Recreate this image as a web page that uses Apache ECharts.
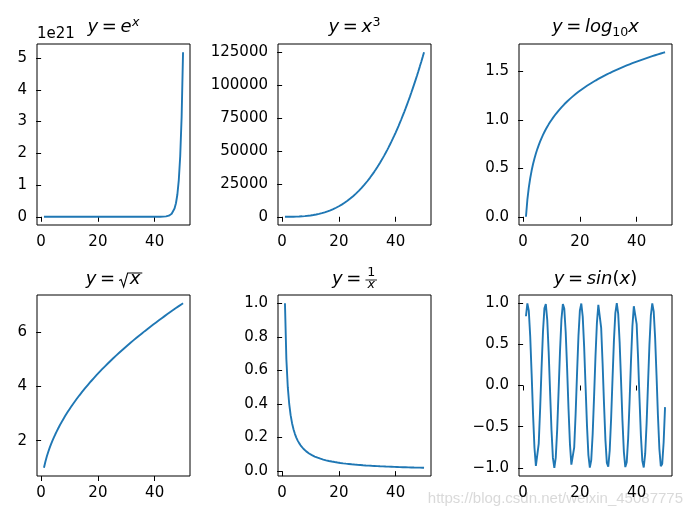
<!DOCTYPE html>
<html>
<head>
<meta charset="utf-8">
<script src="https://cdn.jsdelivr.net/npm/echarts@6/dist/echarts.min.js"></script>
</head>
<body style="margin:0">
<div id="chart" style="width:693px;height:520px"></div>
<script>
// ---------- data ----------
const xValues = [1,1.5,2,2.5,3,3.5,4,4.5,5,5.5,6,6.5,7,7.5,8,8.5,9,9.5,10,10.5,
  11,11.5,12,12.5,13,13.5,14,14.5,15,15.5,16,16.5,17,17.5,18,18.5,19,19.5,20,20.5,
  21,21.5,22,22.5,23,23.5,24,24.5,25,25.5,26,26.5,27,27.5,28,28.5,29,29.5,30,30.5,
  31,31.5,32,32.5,33,33.5,34,34.5,35,35.5,36,36.5,37,37.5,38,38.5,39,39.5,40,40.5,
  41,41.5,42,42.5,43,43.5,44,44.5,45,45.5,46,46.5,47,47.5,48,48.5,49,49.5,50];

const expValues = [2.718,4.482,7.389,12.18,20.09,33.12,54.60,90.02,148.4,244.7,
  403.4,665.1,1096.6,1808.0,2981,4915,8103,13360,22026,36316,
  59874,98716,162755,268337,442413,729416,1.2026e6,1.9827e6,3.269e6,5.390e6,
  8.886e6,1.465e7,2.4155e7,3.983e7,6.566e7,1.0826e8,1.7848e8,2.9427e8,4.8517e8,7.999e8,
  1.3188e9,2.1744e9,3.5849e9,5.9105e9,9.7448e9,1.6067e10,2.6489e10,4.3673e10,7.2005e10,1.1872e11,
  1.9573e11,3.2271e11,5.3205e11,8.7721e11,1.4463e12,2.3845e12,3.9313e12,6.4817e12,1.0686e13,1.7619e13,
  2.9049e13,4.7893e13,7.8963e13,1.3019e14,2.1464e14,3.5388e14,5.8346e14,9.6196e14,1.5860e15,2.6149e15,
  4.3112e15,7.1080e15,1.1719e16,1.9322e16,3.1856e16,5.2522e16,8.6593e16,1.4277e17,2.3539e17,3.8809e17,
  6.3984e17,1.0549e18,1.7393e18,2.8676e18,4.7279e18,7.7950e18,1.2852e19,2.1189e19,3.4934e19,5.7597e19,
  9.4961e19,1.5656e20,2.5813e20,4.2558e20,7.0167e20,1.1569e21,1.9073e21,3.1447e21,5.1847e21];

const cubeValues = [1,3.4,8,15.6,27,42.9,64,91.1,125,166.4,
  216,274.6,343,421.9,512,614.1,729,857.4,1000,1157.6,
  1331,1520.9,1728,1953.1,2197,2460.4,2744,3048.6,3375,3723.9,
  4096,4492.1,4913,5359.4,5832,6331.6,6859,7414.9,8000,8615.1,
  9261,9938.4,10648,11390.6,12167,12977.9,13824,14706.1,15625,16581.4,
  17576,18609.6,19683,20796.9,21952,23149.1,24389,25672.4,27000,28372.6,
  29791,31255.9,32768,34328.1,35937,37595.4,39304,41063.6,42875,44738.9,
  46656,48627.1,50653,52734.4,54872,57066.6,59319,61629.9,64000,66430.1,
  68921,71473.4,74088,76765.6,79507,82312.9,85184,88121.1,91125,94196.4,
  97336,100544.6,103823,107171.9,110592,114084.1,117649,121287.4,125000];

const logValues = [0,0.1761,0.3010,0.3979,0.4771,0.5441,0.6021,0.6532,0.6990,0.7404,
  0.7782,0.8129,0.8451,0.8751,0.9031,0.9294,0.9542,0.9777,1.0000,1.0212,
  1.0414,1.0607,1.0792,1.0969,1.1139,1.1303,1.1461,1.1614,1.1761,1.1903,
  1.2041,1.2175,1.2304,1.2430,1.2553,1.2672,1.2788,1.2900,1.3010,1.3118,
  1.3222,1.3324,1.3424,1.3522,1.3617,1.3711,1.3802,1.3892,1.3979,1.4065,
  1.4150,1.4232,1.4314,1.4393,1.4472,1.4548,1.4624,1.4698,1.4771,1.4843,
  1.4914,1.4983,1.5051,1.5119,1.5185,1.5250,1.5315,1.5378,1.5441,1.5502,
  1.5563,1.5623,1.5682,1.5740,1.5798,1.5855,1.5911,1.5966,1.6021,1.6075,
  1.6128,1.6180,1.6232,1.6284,1.6335,1.6385,1.6435,1.6484,1.6532,1.6580,
  1.6628,1.6675,1.6721,1.6767,1.6812,1.6857,1.6902,1.6946,1.6990];

const sqrtValues = [1,1.2247,1.4142,1.5811,1.7321,1.8708,2,2.1213,2.2361,2.3452,
  2.4495,2.5495,2.6458,2.7386,2.8284,2.9155,3,3.0822,3.1623,3.2404,
  3.3166,3.3912,3.4641,3.5355,3.6056,3.6742,3.7417,3.8079,3.8730,3.9370,
  4,4.0620,4.1231,4.1833,4.2426,4.3012,4.3589,4.4159,4.4721,4.5277,
  4.5826,4.6368,4.6904,4.7434,4.7958,4.8477,4.8990,4.9497,5,5.0498,
  5.0990,5.1478,5.1962,5.2440,5.2915,5.3385,5.3852,5.4314,5.4772,5.5227,
  5.5678,5.6125,5.6569,5.7009,5.7446,5.7879,5.8310,5.8737,5.9161,5.9582,
  6,6.0415,6.0828,6.1237,6.1644,6.2048,6.2450,6.2849,6.3246,6.3640,
  6.4031,6.4420,6.4807,6.5192,6.5574,6.5955,6.6332,6.6708,6.7082,6.7454,
  6.7823,6.8191,6.8557,6.8920,6.9282,6.9642,7,7.0356,7.0711];

const recipValues = [1,0.6667,0.5,0.4,0.3333,0.2857,0.25,0.2222,0.2,0.1818,
  0.1667,0.1538,0.1429,0.1333,0.125,0.1176,0.1111,0.1053,0.1,0.0952,
  0.0909,0.0870,0.0833,0.08,0.0769,0.0741,0.0714,0.0690,0.0667,0.0645,
  0.0625,0.0606,0.0588,0.0571,0.0556,0.0541,0.0526,0.0513,0.05,0.0488,
  0.0476,0.0465,0.0455,0.0444,0.0435,0.0426,0.0417,0.0408,0.04,0.0392,
  0.0385,0.0377,0.0370,0.0364,0.0357,0.0351,0.0345,0.0339,0.0333,0.0328,
  0.0323,0.0317,0.0313,0.0308,0.0303,0.0299,0.0294,0.0290,0.0286,0.0282,
  0.0278,0.0274,0.0270,0.0267,0.0263,0.0260,0.0256,0.0253,0.025,0.0247,
  0.0244,0.0241,0.0238,0.0235,0.0233,0.0230,0.0227,0.0225,0.0222,0.0220,
  0.0217,0.0215,0.0213,0.0211,0.0208,0.0206,0.0204,0.0202,0.02];

const sinValues = [0.8415,0.9975,0.9093,0.5985,0.1411,-0.3508,-0.7568,-0.9775,-0.9589,-0.7055,
  -0.2794,0.2151,0.6570,0.9380,0.9894,0.7985,0.4121,-0.0752,-0.5440,-0.8797,
  -1.0000,-0.8755,-0.5366,-0.0663,0.4202,0.8038,0.9906,0.9349,0.6503,0.2065,
  -0.2879,-0.7119,-0.9614,-0.9756,-0.7510,-0.3425,0.1499,0.6055,0.9129,0.9968,
  0.8367,0.4716,-0.0089,-0.4872,-0.8462,-0.9981,-0.9056,-0.5914,-0.1324,0.3591,
  0.7625,0.9794,0.9564,0.6992,0.2709,-0.2238,-0.6636,-0.9411,-0.9880,-0.7932,
  -0.4040,0.0840,0.5514,0.8839,0.9999,0.8711,0.5291,0.0575,-0.4282,-0.8090,
  -0.9918,-0.9320,-0.6435,-0.1978,0.2964,0.7180,0.9638,0.9736,0.7451,0.3341,
  -0.1586,-0.6126,-0.9165,-0.9961,-0.8317,-0.4638,0.0177,0.4949,0.8509,0.9986,
  0.9018,0.5842,0.1236,-0.3673,-0.7683,-0.9811,-0.9538,-0.6929,-0.2624];

// tick labels
const xTicks = [0, 20, 40];
const expTicks = [0, 1e21, 2e21, 3e21, 4e21, 5e21];
const cubeTicks = [0, 25000, 50000, 75000, 100000, 125000];
const logTicks = [0, 0.5, 1.0, 1.5];
const sqrtTicks = [2, 4, 6];
const recipTicks = [0, 0.2, 0.4, 0.6, 0.8, 1.0];
const sinTicks = [-1.0, -0.5, 0, 0.5, 1.0];

// ---------- layout ----------
const FONT = 'DejaVu Sans';
const LINE = '#1f77b4';
const cols = [37, 278, 519];
const rows = [44, 295];
const W = 153, H = 181;

const panels = [
  {data: expValues, ticks: expTicks, min: -0.2592e21, max: 5.4439e21, fmt: v => String(Math.round(v / 1e21))},
  {data: cubeValues, ticks: cubeTicks, min: -6249, max: 131250, fmt: v => String(v)},
  {data: logValues, ticks: logTicks, min: -0.08495, max: 1.78395, fmt: v => v.toFixed(1)},
  {data: sqrtValues, ticks: sqrtTicks, min: 0.6964, max: 7.3746, fmt: v => String(v)},
  {data: recipValues, ticks: recipTicks, min: -0.029, max: 1.049, fmt: v => v.toFixed(1)},
  {data: sinValues, ticks: sinTicks, min: -1.1, max: 1.1, fmt: v => v.toFixed(1).replace('-', '\u2212')}
];

const grids = [], xAxes = [], yAxes = [], series = [];
panels.forEach((p, i) => {
  grids.push({left: cols[i % 3], top: rows[Math.floor(i / 3)], width: W, height: H,
    show: true, borderColor: '#000', borderWidth: 1});
  xAxes.push({
    gridIndex: i, type: 'value', min: -1.45, max: 52.45,
    axisLine: {show: false}, splitLine: {show: false},
    axisTick: {customValues: xTicks, length: 5, lineStyle: {color: '#000'}},
    axisLabel: {customValues: xTicks, fontSize: 15, fontFamily: FONT, color: '#000', margin: 10,
      formatter: v => String(v)}
  });
  yAxes.push({
    gridIndex: i, type: 'value', min: p.min, max: p.max,
    axisLine: {show: false}, splitLine: {show: false},
    axisTick: {customValues: p.ticks, length: 5, lineStyle: {color: '#000'}},
    axisLabel: {customValues: p.ticks, fontSize: 15, fontFamily: FONT, color: '#000', margin: 10,
      formatter: p.fmt}
  });
  series.push({
    type: 'line', xAxisIndex: i, yAxisIndex: i,
    data: xValues.map((x, k) => [x, p.data[k]]),
    showSymbol: false,
    lineStyle: {color: LINE, width: 1.9},
    itemStyle: {color: LINE}
  });
});

// ---------- titles (math-like text) ----------
const mctx = document.createElement('canvas').getContext('2d');
function measure(t, fs, it) {
  mctx.font = (it ? 'italic ' : '') + fs + 'px "' + FONT + '"';
  return mctx.measureText(t).width;
}
const K = 0.346;
const TF = 18, SF = 12.6;
function txt(x, y, t, fs, it, align) {
  return {
    type: 'text', x: x, y: y, silent: true,
    style: {text: t, fontSize: fs, fontFamily: FONT, fontStyle: it ? 'italic' : 'normal',
      fill: '#000', align: align || 'left', verticalAlign: 'middle'}
  };
}
function buildTitle(cx, baseline, pieces) {
  let total = 0;
  pieces.forEach(p => { p.w = p.t ? measure(p.t, p.fs, p.it) : (p.w || 0); total += (p.pre || 0) + p.w + (p.post || 0); });
  let x = cx - total / 2;
  const els = [];
  pieces.forEach(p => {
    x += (p.pre || 0);
    p.x0 = x;
    if (p.t) els.push(txt(x, baseline + (p.dy || 0) - K * p.fs, p.t, p.fs, p.it));
    x += p.w;
    p.x1 = x;
    x += (p.post || 0);
  });
  return {els, pieces};
}
const eqGap = 3.6;
const graphics = [];
const b1 = 34, b2 = 285.5;
const cxs = cols.map(c => c + W / 2);

graphics.push(...buildTitle(cxs[0], b1, [
  {t: 'y', fs: TF, it: true},
  {t: '=', fs: TF, pre: eqGap, post: eqGap},
  {t: 'e', fs: TF, it: true},
  {t: 'x', fs: SF, it: true, dy: -7, pre: 0.5}
]).els);
graphics.push(...buildTitle(cxs[1], b1, [
  {t: 'y', fs: TF, it: true},
  {t: '=', fs: TF, pre: eqGap, post: eqGap},
  {t: 'x', fs: TF, it: true},
  {t: '3', fs: SF, dy: -7, pre: 0.5}
]).els);
graphics.push(...buildTitle(cxs[2], b1, [
  {t: 'y', fs: TF, it: true},
  {t: '=', fs: TF, pre: eqGap, post: eqGap},
  {t: 'log', fs: TF, it: true},
  {t: '10', fs: SF, dy: 3},
  {t: 'x', fs: TF, it: true}
]).els);
(function () {
  const r = buildTitle(cxs[0], b2, [
    {t: 'y', fs: TF, it: true},
    {t: '=', fs: TF, pre: eqGap, post: eqGap},
    {t: '', w: 10, pre: 0},
    {t: 'x', fs: TF, it: true, pre: 1, post: 1}
  ]);
  graphics.push(...r.els);
  const rad = r.pieces[2], px = r.pieces[3];
  const top = b2 - 12.5;
  graphics.push({type: 'polyline', silent: true,
    shape: {points: [[rad.x0 + 0.5, b2 - 5], [rad.x0 + 2.5, b2 - 6], [rad.x0 + 5, b2 + 1.5], [rad.x0 + 9, top], [px.x1 + 2, top]]},
    style: {stroke: '#000', lineWidth: 1.1, fill: null}});
})();
(function () {
  const r = buildTitle(cxs[1], b2, [
    {t: 'y', fs: TF, it: true},
    {t: '=', fs: TF, pre: eqGap, post: eqGap},
    {t: '', w: 11.5, pre: 0.5}
  ]);
  graphics.push(...r.els);
  const fr = r.pieces[2];
  const barY = b2 - 5.5;
  const mid = (fr.x0 + fr.x1) / 2;
  graphics.push({type: 'line', silent: true, shape: {x1: fr.x0, y1: barY, x2: fr.x1, y2: barY},
    style: {stroke: '#000', lineWidth: 0.9}});
  graphics.push(txt(mid, barY - 2.5 - K * 12.6, '1', 12.6, false, 'center'));
  graphics.push(txt(mid, barY + 9.5 - K * 12.6, 'x', 12.6, true, 'center'));
})();
graphics.push(...buildTitle(cxs[2], b2, [
  {t: 'y', fs: TF, it: true},
  {t: '=', fs: TF, pre: eqGap, post: eqGap},
  {t: 'sin', fs: TF, it: true},
  {t: '(', fs: TF},
  {t: 'x', fs: TF, it: true},
  {t: ')', fs: TF}
]).els);

graphics.push(txt(cols[0], 39 - K * 15, '1e21', 15, false, 'left'));

graphics.push({type: 'text', x: 683, y: 499, silent: true,
  style: {text: 'https://blog.csdn.net/weixin_45087775', fontSize: 15, fontFamily: 'Liberation Sans',
    fill: 'rgba(185,185,185,0.55)', align: 'right', verticalAlign: 'middle'}});

const chart = echarts.init(document.getElementById('chart'));
chart.setOption({
  animation: false,
  grid: grids,
  xAxis: xAxes,
  yAxis: yAxes,
  series: series,
  graphic: {elements: graphics}
});
</script>
</body>
</html>
